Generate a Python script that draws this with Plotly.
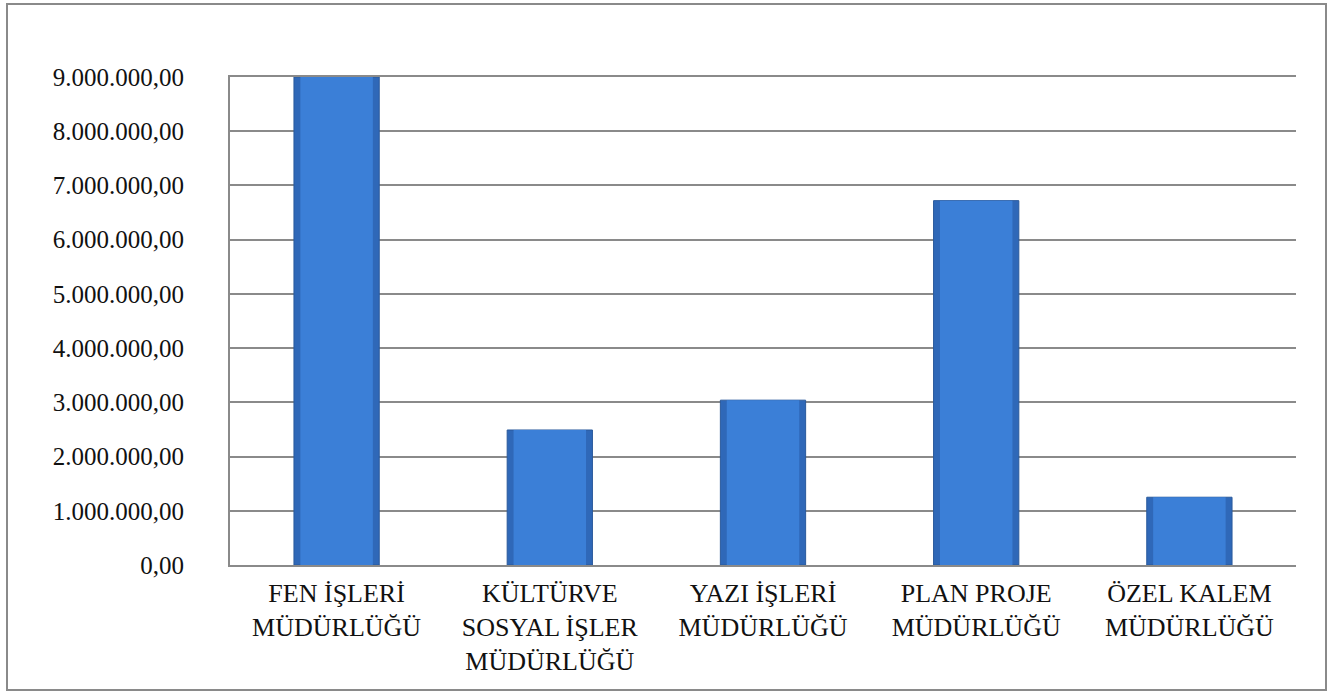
import plotly.graph_objects as go

# Müdürlük bazında tutarlar (TL)
categories = [
    "FEN İŞLERİ<br>MÜDÜRLÜĞÜ",
    "KÜLTÜRVE<br>SOSYAL İŞLER<br>MÜDÜRLÜĞÜ",
    "YAZI İŞLERİ<br>MÜDÜRLÜĞÜ",
    "PLAN PROJE<br>MÜDÜRLÜĞÜ",
    "ÖZEL KALEM<br>MÜDÜRLÜĞÜ",
]
amounts = [9000000, 2490000, 3040000, 6720000, 1250000]
tick_values = [0, 1000000, 2000000, 3000000, 4000000, 5000000,
               6000000, 7000000, 8000000, 9000000]

W, H = 1341, 691
m_l, m_r, m_t, m_b = 230, 45, 77, 126

fig = go.Figure()

# darker outer body of each bar
fig.add_trace(go.Bar(
    x=categories, y=amounts, width=0.4,
    marker=dict(color="#2f68b8", line=dict(color="#2a5a9c", width=1)),
    hoverinfo="x+y", showlegend=False,
))
# lighter face inside the bar
fig.add_trace(go.Bar(
    x=categories, y=amounts, width=0.34,
    marker=dict(color="#3b7fd7", line=dict(width=0)),
    hoverinfo="skip", showlegend=False,
))

# outer frame around the whole chart
px0, px1 = 7, 1326
py0, py1 = 4, 690
pw, ph = W - m_l - m_r, H - m_t - m_b
fig.add_shape(
    type="rect", xref="paper", yref="paper",
    x0=(px0 - m_l) / pw, x1=(px1 - m_l) / pw,
    y0=(H - m_b - py1) / ph, y1=(H - m_b - py0) / ph,
    line=dict(color="#8a8a8a", width=2), layer="below",
)

serif = "Liberation Serif"
ytick_font = dict(family=serif, size=25, color="#111111")
xtick_font = dict(family=serif, size=26, color="#111111")

fig.update_layout(
    width=W, height=H,
    margin=dict(l=m_l, r=m_r, t=m_t, b=m_b),
    paper_bgcolor="white", plot_bgcolor="white",
    barmode="overlay",
    separators=",.",
    font=dict(family=serif, size=24, color="#111111"),
    xaxis=dict(
        showgrid=False, showline=True, mirror=True,
        linecolor="#8a8a8a", linewidth=2,
        ticks="", tickfont=xtick_font, ticklabelstandoff=4,
    ),
    yaxis=dict(
        range=[0, 9000000], tickvals=tick_values, tickformat=",.2f",
        showgrid=True, gridcolor="#8a8a8a", gridwidth=1.5,
        showline=True, linecolor="#8a8a8a", linewidth=2,
        zeroline=False, ticks="", tickfont=ytick_font, ticklabelstandoff=39,
    ),
)

fig.write_html("out.html")
